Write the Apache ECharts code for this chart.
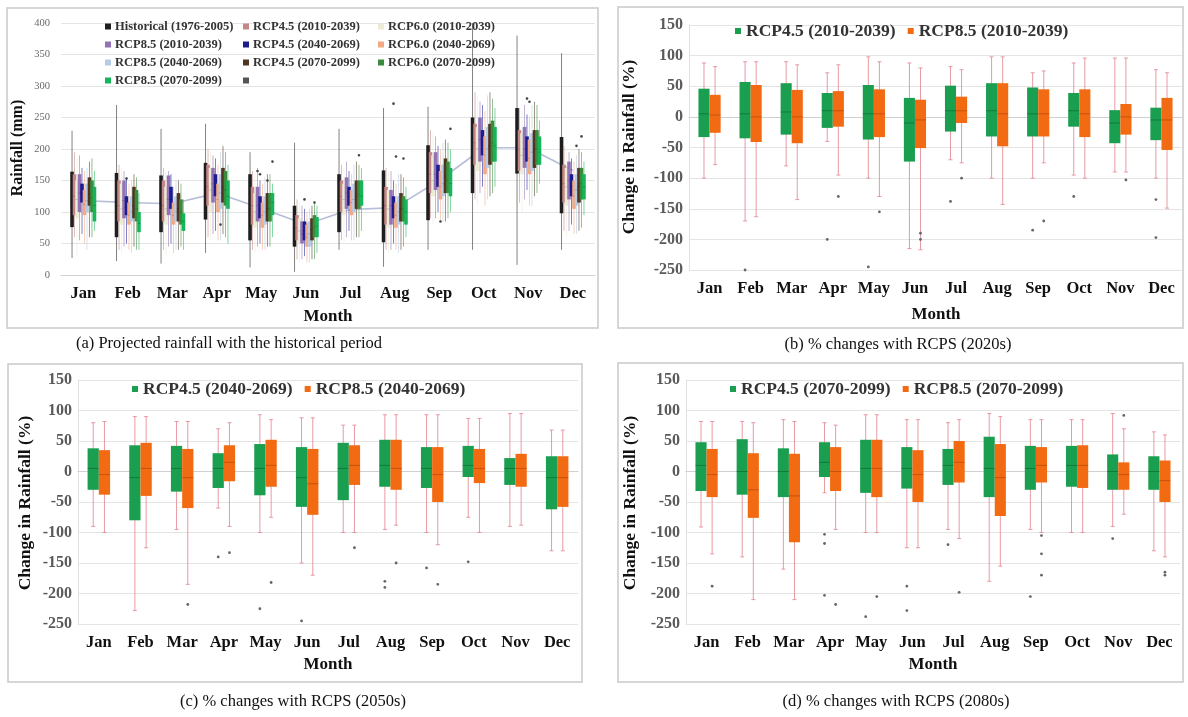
<!DOCTYPE html>
<html><head><meta charset="utf-8">
<script src="https://cdn.jsdelivr.net/npm/echarts@6/dist/echarts.min.js"></script>
<style>html,body{margin:0;padding:0;background:#fff}#c{width:1188px;height:717px}</style>
</head><body><div id="c"></div>
<script>
const months = ['Jan','Feb','Mar','Apr','May','Jun','Jul','Aug','Sep','Oct','Nov','Dec'];

// ---------- Panel (a): rainfall (mm), [min, q1, median, q3, max] per month ----------
const aNames = ['Historical (1976-2005)','RCP4.5 (2010-2039)','RCP6.0 (2010-2039)','RCP8.5 (2010-2039)','RCP4.5 (2040-2069)','RCP6.0 (2040-2069)','RCP8.5 (2040-2069)','RCP4.5 (2070-2099)','RCP6.0 (2070-2099)','RCP8.5 (2070-2099)'];
const histMeanLine = [118,115,113,130,106,80,104,107,150,202,202,166];
const hist = [[27,76,118,164,229],[22,60,110,162,270],[18,68,112,158,232],[35,88,135,178,240],[12,55,105,160,195],[5,45,75,110,210],[40,68,115,160,232],[13,52,100,166,265],[40,87,150,206,267],[40,130,215,250,400],[16,161,205,265,380],[40,98,150,219,352]];
const r45_2010 = [[60,95,125,160,195],[40,85,110,150,175],[40,85,110,150,170],[60,110,140,175,200],[40,80,110,140,165],[25,55,75,95,120],[55,100,125,150,175],[40,80,110,140,170],[90,130,160,195,230],[120,175,210,240,290],[115,165,200,230,265],[70,115,145,175,205]];
const r60_2010 = [[30,90,120,150,185],[35,80,105,145,170],[30,80,105,140,165],[55,100,135,170,195],[35,75,100,130,160],[20,50,70,90,115],[50,95,120,145,170],[35,75,105,135,165],[80,125,150,190,225],[110,165,200,235,285],[100,160,190,225,260],[60,110,140,170,200]];
const r85_2010 = [[55,100,130,160,190],[45,90,118,150,165],[45,95,120,158,165],[65,115,145,170,190],[45,85,110,140,170],[25,50,65,85,110],[60,105,130,155,180],[40,80,110,135,165],[90,135,160,195,220],[130,180,215,250,275],[120,170,200,235,270],[70,120,150,180,195]];
const r45_2040 = [[65,115,130,145,170],[50,95,108,125,155],[50,105,120,140,160],[70,125,140,160,185],[50,90,105,125,150],[30,55,70,85,105],[70,110,125,140,165],[50,90,105,125,150],[100,140,155,175,205],[140,190,210,230,270],[135,180,200,220,255],[80,125,140,160,185]];
const r60_2040 = [[50,95,112,135,165],[40,80,95,115,145],[35,80,95,115,140],[55,100,120,145,175],[40,75,95,115,145],[20,45,60,80,100],[55,95,115,135,160],[40,75,95,115,145],[85,120,140,165,200],[110,160,190,220,260],[110,160,185,215,250],[65,105,125,150,180]];
const r85_2040 = [[40,100,118,145,170],[35,85,100,125,150],[40,85,100,125,150],[55,105,130,160,195],[40,80,100,125,155],[20,45,65,85,105],[55,100,120,145,175],[35,80,100,125,160],[85,125,145,175,210],[120,170,200,235,285],[110,165,195,225,270],[65,110,135,160,190]];
const r45_2070 = [[60,110,128,155,180],[45,90,110,140,160],[40,85,105,130,150],[65,115,140,170,205],[45,85,105,130,160],[25,55,72,90,110],[60,105,125,150,180],[40,85,105,130,160],[85,130,155,185,215],[125,175,205,240,290],[125,170,200,230,275],[70,115,140,170,200]];
const r60_2070 = [[60,100,122,150,185],[40,85,105,135,155],[45,80,100,120,145],[60,110,135,165,195],[45,85,105,130,160],[25,60,75,95,115],[60,105,128,150,175],[45,85,105,125,155],[90,130,150,180,210],[130,180,210,245,280],[130,175,200,230,270],[75,120,145,170,195]];
const r85_2070 = [[70,85,110,140,165],[40,68,82,100,130],[40,70,85,98,120],[50,105,125,150,175],[60,95,115,130,145],[35,60,78,92,110],[70,110,125,150,170],[60,80,100,120,140],[100,125,145,170,200],[140,180,205,235,265],[145,175,195,220,245],[95,120,140,160,180]];
// outliers: [monthIndex, value, seriesSlot]
const aOutliers = [[1,153,4],[3,80,6],[4,165,3],[4,160,4],[4,180,9],[4,150,7],[5,120,4],[5,115,8],[6,190,8],[7,272,4],[7,188,5],[7,185,8],[8,232,9],[8,85,5],[10,280,4],[10,275,5],[11,220,8],[11,205,6]];
const aColors = ['#1e1e1e','#c48686','#ebebd6','#9274b6','#1c1c90','#f3a984','#b8cbe6','#4e3620','#3c8a3c','#16b55a'];

// ---------- Panels (b),(c),(d): change in rainfall (%) ----------
const b45 = [[-100,-33,5,46,88],[-170,-35,5,57,90],[-80,-29,8,55,90],[-40,-18,10,39,72],[-100,-37,5,52,98],[-215,-73,-10,31,88],[-70,-24,10,51,82],[-100,-32,10,55,98],[-100,-32,5,48,72],[-95,-16,10,39,88],[-90,-43,-10,11,96],[-100,-38,-5,15,77]];
const b85 = [[-78,-26,3,36,82],[-163,-41,0,52,90],[-135,-43,0,44,85],[-95,-16,10,42,85],[-130,-33,5,45,90],[-217,-51,-5,28,80],[-75,-10,10,33,77],[-143,-48,5,55,98],[-75,-32,5,45,75],[-100,-33,5,45,96],[-90,-29,0,21,96],[-149,-54,-5,31,72]];
const bOutliers = [[1,-250,0],[3,-200,0],[3,-130,1],[4,-245,0],[4,-155,1],[5,-190,1],[5,-200,1],[6,-138,0],[6,-100,1],[8,-185,0],[8,-170,1],[9,-130,0],[10,-103,1],[11,-135,0],[11,-197,0]];
const c45 = [[-90,-30,5,38,80],[-228,-80,-10,43,90],[-95,-33,5,42,82],[-60,-27,5,30,70],[-100,-39,5,45,93],[-150,-58,-10,40,88],[-100,-47,5,47,76],[-95,-25,10,52,93],[-100,-27,5,40,93],[-75,-9,10,42,87],[-90,-22,5,22,95],[-130,-62,-10,25,68]];
const c85 = [[-100,-38,-5,35,82],[-125,-40,5,47,90],[-185,-60,-10,37,82],[-90,-16,15,43,80],[-75,-25,10,52,85],[-170,-71,-20,37,88],[-100,-22,10,43,76],[-88,-30,5,52,93],[-120,-50,-5,40,93],[-100,-19,5,37,87],[-88,-25,5,29,95],[-130,-58,-10,25,68]];
const cOutliers = [[2,-218,1],[3,-140,0],[3,-133,1],[4,-225,0],[4,-182,1],[5,-245,0],[6,-125,1],[7,-180,0],[7,-190,0],[7,-150,1],[8,-158,0],[8,-185,1],[9,-148,0]];
const d45 = [[-91,-32,10,48,82],[-140,-38,0,53,82],[-160,-42,0,38,85],[-35,-9,15,48,80],[-100,-35,5,52,93],[-125,-28,5,40,85],[-95,-22,10,37,80],[-180,-42,5,57,95],[-95,-30,5,42,85],[-100,-25,10,42,85],[-90,-30,0,28,95],[-130,-30,0,25,65]];
const d85 = [[-135,-42,-5,37,82],[-210,-76,-30,30,80],[-210,-116,-40,29,82],[-95,-32,0,40,76],[-100,-42,5,52,93],[-125,-50,-5,35,85],[-110,-18,15,50,85],[-155,-73,-10,45,90],[-100,-18,10,40,85],[-100,-27,10,43,85],[-70,-30,-5,15,70],[-140,-50,-15,18,60]];
const dOutliers = [[0,-188,1],[3,-103,0],[3,-118,0],[3,-203,0],[3,-218,1],[4,-238,0],[4,-205,1],[5,-188,0],[5,-228,0],[6,-120,0],[6,-198,1],[8,-205,0],[8,-105,1],[8,-135,1],[8,-170,1],[10,92,1],[10,-110,0],[11,-165,1],[11,-170,1]];
const pctTicks = {min:-250, max:150, interval:50};
const GREEN = '#1a9e50', ORANGE = '#f26a12';

const SERIF = '"Liberation Serif","Times New Roman",serif';

function boxRenderer(slot, nSlots, groupFrac, boxScale, fill, whisk, med, capW) {
  return function (params, api) {
    const xi = api.value(0);
    const band = api.size([1, 0])[0];
    const slotW = band * groupFrac / nSlots;
    const base = api.coord([xi, 0])[0];
    const cx = base - band * groupFrac / 2 + slotW * (slot + 0.5);
    const w = slotW * boxScale;
    const y = i => api.coord([xi, api.value(i)])[1];
    const yMin = y(1), yQ1 = y(2), yMed = y(3), yQ3 = y(4), yMax = y(5);
    const ch = [
      {type:'line', shape:{x1:cx, y1:yMax, x2:cx, y2:yMin}, style:{stroke:whisk, lineWidth:1}},
      {type:'rect', shape:{x:cx - w/2, y:yQ3, width:w, height:yQ1 - yQ3}, style:{fill:fill}},
      {type:'line', shape:{x1:cx - w/2, y1:yMed, x2:cx + w/2, y2:yMed}, style:{stroke:med, lineWidth:1}}
    ];
    if (capW) {
      ch.push({type:'line', shape:{x1:cx - capW/2, y1:yMax, x2:cx + capW/2, y2:yMax}, style:{stroke:whisk, lineWidth:1}});
      ch.push({type:'line', shape:{x1:cx - capW/2, y1:yMin, x2:cx + capW/2, y2:yMin}, style:{stroke:whisk, lineWidth:1}});
    }
    return {type:'group', children: ch};
  };
}
function outlierRenderer(nSlots, groupFrac, color, r) {
  return function (params, api) {
    const xi = api.value(0);
    const band = api.size([1, 0])[0];
    const slotW = band * groupFrac / nSlots;
    const p = api.coord([xi, api.value(1)]);
    const cx = p[0] - band * groupFrac / 2 + slotW * (api.value(2) + 0.5);
    return {type:'circle', shape:{cx:cx, cy:p[1], r:r}, style:{fill:color}};
  };
}
function boxSeries(name, gi, data, slot, nSlots, groupFrac, boxScale, fill, whisk, med, capW, z) {
  return {
    type:'custom', name:name, xAxisIndex:gi, yAxisIndex:gi, z:z || 3,
    itemStyle:{color:fill},
    renderItem: boxRenderer(slot, nSlots, groupFrac, boxScale, fill, whisk, med, capW),
    encode:{x:0, y:[1,2,3,4,5]},
    data: data.map((d, i) => [i].concat(d))
  };
}
function outlierSeries(gi, data, nSlots, groupFrac, color, r) {
  return {
    type:'custom', xAxisIndex:gi, yAxisIndex:gi, z:5,
    renderItem: outlierRenderer(nSlots, groupFrac, color, r),
    encode:{x:0, y:1},
    data: data
  };
}

const aData = [hist, r45_2010, r60_2010, r85_2010, r45_2040, r60_2040, r85_2040, r45_2070, r60_2070, r85_2070];
const series = [];
series.push({type:'line', name:' ', xAxisIndex:0, yAxisIndex:0, data:histMeanLine, symbol:'none', z:1,
  lineStyle:{color:'#b7bed8', width:1.6}, itemStyle:{color:'#333'}});
aData.forEach((d, k) => {
  const whisk = k === 0 ? 'rgba(90,90,90,0.75)' : echarts.color.modifyAlpha(aColors[k], 0.55);
  series.push(boxSeries(aNames[k], 0, d, k, 10, 0.56, 1.45, aColors[k], whisk, 'rgba(0,0,0,0.15)', 0, 3 + k * 0.01));
});
series.push(outlierSeries(0, aOutliers, 10, 0.56, '#444', 1.3));

const pctPanels = [
  {gi:1, g:b45, o:b85, out:bOutliers, n1:'RCP4.5 (2010-2039)', n2:'RCP8.5 (2010-2039)'},
  {gi:2, g:c45, o:c85, out:cOutliers, n1:'RCP4.5 (2040-2069)', n2:'RCP8.5 (2040-2069)'},
  {gi:3, g:d45, o:d85, out:dOutliers, n1:'RCP4.5 (2070-2099)', n2:'RCP8.5 (2070-2099)'}
];
pctPanels.forEach(p => {
  series.push(boxSeries(p.n1, p.gi, p.g, 0, 2, 0.54, 1, GREEN, 'rgba(225,130,140,0.8)', 'rgba(0,60,20,0.35)', 4));
  series.push(boxSeries(p.n2, p.gi, p.o, 1, 2, 0.54, 1, ORANGE, 'rgba(225,130,140,0.8)', 'rgba(120,40,0,0.35)', 4));
  series.push(outlierSeries(p.gi, p.out, 2, 0.54, '#666', 1.4));
});

const grids = [
  {left:61, top:23, width:534, height:252},
  {left:689, top:25, width:493, height:245},
  {left:78, top:380, width:500, height:244},
  {left:686, top:380, width:494, height:244}
];
const xAxes = grids.map((g, i) => ({
  type:'category', gridIndex:i, data:months, boundaryGap:true,
  axisLine:{lineStyle:{color:'#d0d0d0'}}, axisTick:{show:false},
  axisLabel:{color:'#111', fontFamily:SERIF, fontWeight:'bold', fontSize:16.5, margin:10, interval:0}
}));
const yAxes = grids.map((g, i) => (i === 0 ? {
  type:'value', gridIndex:0, min:0, max:400, interval:50,
  axisLine:{show:false}, axisTick:{show:false},
  splitLine:{lineStyle:{color:'#e4e4e4'}},
  axisLabel:{color:'#6a6a6a', fontFamily:SERIF, fontSize:10.5, margin:11}
} : {
  type:'value', gridIndex:i, min:pctTicks.min, max:pctTicks.max, interval:pctTicks.interval,
  axisLine:{show:true, lineStyle:{color:'#e0e0e0'}}, axisTick:{show:false},
  splitLine:{lineStyle:{color:'#e4e4e4'}},
  axisLabel:{color:'#5a5a5a', fontFamily:SERIF, fontWeight:'bold', fontSize:16, margin:6}
}));

const legA = (names, left) => ({
  orient:'vertical', left:left, top:15, itemWidth:6, itemHeight:6, itemGap:5,
  icon:'rect', selectedMode:false,
  textStyle:{fontFamily:SERIF, fontWeight:'bold', fontSize:12.5, color:'#333', padding:[0,0,0,-1]},
  data: names.map(n => n === ' ' ? {name:' ', icon:'rect', itemStyle:{color:'#555'}} : {name:n, itemStyle:{color:aColors[aNames.indexOf(n)]}})
});
const legP = (p, left, top) => ({
  orient:'horizontal', left:left, top:top, itemWidth:6, itemHeight:6, itemGap:12,
  icon:'rect', selectedMode:false,
  textStyle:{fontFamily:SERIF, fontWeight:'bold', fontSize:17.5, color:'#333'},
  data:[{name:p.n1, itemStyle:{color:GREEN}}, {name:p.n2, itemStyle:{color:ORANGE}}]
});

const txt = (x, y, text, size, bold, rot, color) => ({
  type:'text', x:x, y:y, rotation:rot || 0,
  style:{text:text, font:(bold ? 'bold ' : '') + size + 'px ' + SERIF, fill:color || '#111', align:'center', verticalAlign:'middle'}
});
const box = (x, y, w, h) => ({type:'rect', shape:{x:x, y:y, width:w, height:h}, style:{fill:'none', stroke:'#c9c9c9', lineWidth:1.5}, z:-1});

const option = {
  backgroundColor:'#fff',
  animation:false,
  grid: grids,
  xAxis: xAxes,
  yAxis: yAxes,
  legend: [
    legA([aNames[0], aNames[3], aNames[6], aNames[9]], 100),
    legA([aNames[1], aNames[4], aNames[7], ' '], 238),
    legA([aNames[2], aNames[5], aNames[8]], 373),
    legP(pctPanels[0], 730, 17),
    legP(pctPanels[1], 127, 375),
    legP(pctPanels[2], 725, 375)
  ],
  graphic: [
    box(7, 8, 591, 320), box(618, 7, 565, 321), box(8, 364, 574, 318), box(618, 363, 565, 319),
    txt(18, 148, 'Rainfall (mm)', 16, true, Math.PI / 2),
    txt(328, 317, 'Month', 17, true),
    txt(629, 147, 'Change in Rainfall (%)', 17.5, true, Math.PI / 2),
    txt(936, 315, 'Month', 17, true),
    txt(25, 503, 'Change in Rainfall (%)', 17.5, true, Math.PI / 2),
    txt(328, 665, 'Month', 17, true),
    txt(630, 503, 'Change in Rainfall (%)', 17.5, true, Math.PI / 2),
    txt(933, 665, 'Month', 17, true),
    txt(229, 344, '(a) Projected rainfall with the historical period', 16.5, false),
    txt(898, 345, '(b) % changes with RCPS (2020s)', 16.5, false),
    txt(293, 702, '(c) % changes with RCPS (2050s)', 16.5, false),
    txt(896, 702, '(d) % changes with RCPS (2080s)', 16.5, false)
  ],
  series: series
};
const chart = echarts.init(document.getElementById('c'), null, {renderer:'canvas'});
chart.setOption(option);
</script>
</body></html>
